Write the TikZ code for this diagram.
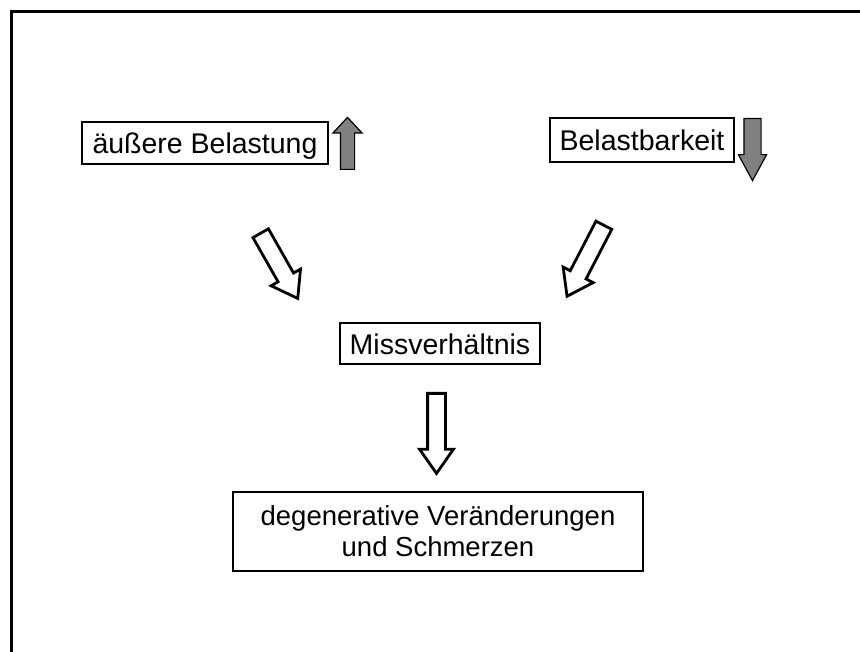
\documentclass[tikz,border=0pt]{standalone}
\usepackage{fontspec}
\setmainfont{Liberation Sans}
\usetikzlibrary{positioning,shapes.arrows}
\tikzset{
  lbl/.style={draw, line width=1.2pt, inner sep=0pt, align=center, font=\fontsize{28.5}{32}\selectfont},
  onel/.style={lbl, text height=21.5pt, text depth=0pt},
  hollow/.style={single arrow, draw, line width=2.8pt, fill=white, inner xsep=0pt, inner ysep=7.5pt, single arrow head extend=8pt, single arrow tip angle=70, single arrow head indent=0pt, anchor=tail},
  grayarr/.style={single arrow, draw, line width=1.2pt, fill=gray, inner xsep=0pt, single arrow head indent=0pt, anchor=tail},
}
\begin{document}
\begin{tikzpicture}[x=1pt,y=-1pt]
  \useasboundingbox (0,0) rectangle (860,652);
  % frame
  \draw[line width=3pt] (11.5,660) -- (11.5,11.5) -- (870,11.5);

  \node[onel, minimum width=246pt, minimum height=42pt] (last) at (205,143) {äußere Belastung};
  \node[onel, minimum width=184pt, minimum height=44pt] (kap) at (642,140) {Belastbarkeit};
  \node[onel, minimum width=200pt, minimum height=41pt] (miss) at (440,343.5) {Missverhältnis};
  \node[lbl, font=\fontsize{27.5}{31}\selectfont, minimum width=410pt, minimum height=79pt] (folge) at (438,531.5) {degenerative Veränderungen\\und Schmerzen};

  % up / down indicators
  \node[grayarr, inner ysep=6.5pt, single arrow head extend=7.5pt, single arrow tip angle=86, minimum height=52pt, rotate=90] (up) at (347.5,170) {};
  \node[grayarr, inner ysep=8pt, single arrow head extend=5.5pt, single arrow tip angle=57, minimum height=62pt, rotate=-90] (down) at (752.5,118) {};

  % hollow arrows
  \node[hollow, minimum height=75pt, rotate=-60.4] (pl) at (260,232) {};
  \node[hollow, minimum height=80pt, rotate=-117.4] (pr) at (604.5,224) {};
  \node[hollow, minimum height=80pt, rotate=-90] (pd) at (436.5,392) {};
\end{tikzpicture}
\end{document}
